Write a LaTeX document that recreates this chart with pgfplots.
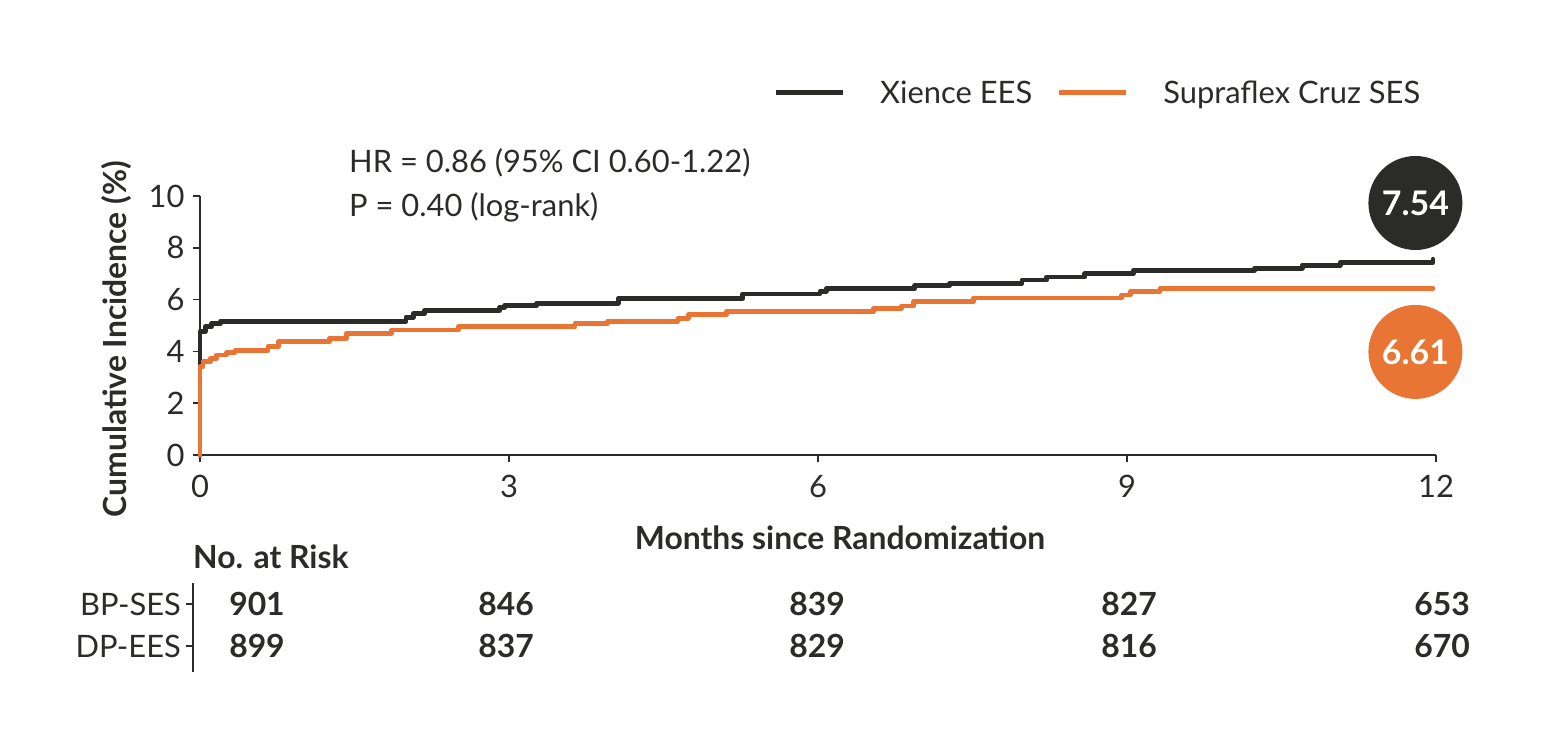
\documentclass[border=0pt]{standalone}
\usepackage{fontspec}
\setmainfont{Lato}
\usepackage{pgfplots}
\pgfplotsset{compat=1.18}

\definecolor{dark}{RGB}{43,43,41}
\definecolor{orng}{RGB}{233,117,53}

\newcommand{\fs}{\fontsize{31}{36}\selectfont}
\newcommand{\fb}{\fontsize{32}{38}\selectfont\bfseries}

\begin{document}
\begin{tikzpicture}
\path[use as bounding box] (0,0) rectangle (1543bp,-752bp);

\begin{axis}[
    at={(200bp,-455bp)}, anchor=south west,
    scale only axis, width=1236bp, height=259bp,
    xmin=0, xmax=12, ymin=0, ymax=10,
    axis x line*=bottom, axis y line*=left,
    axis line style={-, line width=1.5bp, color=dark},
    xtick={0,3,6,9,12}, ytick={0,2,4,6,8,10},
    tick align=outside, major tick length=7bp,
    tick style={line width=1.5bp, color=dark},
    /pgf/number format/assume math mode=true,
    ticklabel style={font=\fs, text=dark},
    xticklabel shift=10bp, yticklabel shift=5bp,
    clip=false,
    legend columns=2,
    legend style={at={(0.4636,1.3977)}, anchor=west, draw=none, fill=none,
        inner sep=0pt, font=\fs, text=dark,
        /tikz/every odd column/.append style={column sep=33bp},
        /tikz/every even column/.append style={column sep=22bp}},
    legend cell align=left,
    legend image code/.code={\draw[#1, line width=5bp, line cap=butt] (0bp,0bp) -- (67bp,0bp);},
]
\addplot[const plot, color=dark, line width=4.8bp, line cap=round, line join=round]
coordinates {
(0,0) (0,4.76) (0.05,4.95) (0.115,5.08) (0.2,5.17) (2.0,5.32) (2.07,5.45)
(2.18,5.58) (2.91,5.71) (2.96,5.77) (3.27,5.86) (4.06,6.05) (5.27,6.22)
(6.02,6.32) (6.08,6.42) (6.94,6.54) (7.28,6.63) (7.98,6.76) (8.22,6.87)
(8.59,7.00) (9.06,7.12) (10.24,7.21) (10.70,7.33) (11.07,7.44) (11.97,7.56)
};
\addlegendentry{Xience EES}
\addplot[const plot, color=orng, line width=4.8bp, line cap=round, line join=round]
coordinates {
(0,0) (0,3.41) (0.03,3.60) (0.10,3.73) (0.16,3.86) (0.26,3.95) (0.34,4.05)
(0.66,4.18) (0.76,4.37) (1.26,4.51) (1.42,4.70) (1.86,4.83) (2.51,4.95)
(3.64,5.08) (3.96,5.17) (4.64,5.28) (4.74,5.41) (5.11,5.53) (6.54,5.66)
(6.81,5.75) (6.93,5.92) (7.51,6.06) (8.95,6.18) (9.03,6.31) (9.32,6.44)
(11.97,6.44)
};
\addlegendentry{Supraflex Cruz SES}

\node[circle, fill=dark, inner sep=0pt, minimum size=94bp, text=white,
      font=\fontsize{34}{38}\selectfont\bfseries] at (axis cs:11.80,9.73) {7.54};
\node[circle, fill=orng, inner sep=0pt, minimum size=94bp, text=white,
      font=\fontsize{34}{38}\selectfont\bfseries] at (axis cs:11.80,3.98) {6.61};
\end{axis}

% annotations
\node[anchor=west, font=\fs, text=dark, inner sep=0pt] at (349bp,-163bp) {HR = 0.86 (95\% CI 0.60-1.22)};
\node[anchor=west, font=\fs, text=dark, inner sep=0pt] at (349bp,-207bp) {P = 0.40 (log-rank)};
\node[rotate=90, font=\fb, text=dark, inner sep=0pt] at (117bp,-339bp) {Cumulative Incidence (\%)};
\node[font=\fb, text=dark, inner sep=0pt] at (840bp,-538bp) {Months since Randomization};

% number at risk
\node[anchor=west, font=\fb, text=dark, inner sep=0pt] at (193bp,-557bp) {No. at Risk};
\node[anchor=east, font=\fs, text=dark, inner sep=0pt] at (181bp,-604bp) {BP-SES};
\node[anchor=east, font=\fs, text=dark, inner sep=0pt] at (181bp,-646bp) {DP-EES};
\draw[dark, line width=1.5bp] (193bp,-583bp) -- (193bp,-672bp);
\draw[dark, line width=1.5bp] (186bp,-604bp) -- (193bp,-604bp);
\draw[dark, line width=1.5bp] (186bp,-646bp) -- (193bp,-646bp);
\foreach \x/\a/\b in {257/901/899, 506/846/837, 817/839/829, 1129/827/816, 1442/653/670} {
  \node[font=\fb, text=dark, inner sep=0pt] at (\x bp,-604bp) {\a};
  \node[font=\fb, text=dark, inner sep=0pt] at (\x bp,-646bp) {\b};
}
\end{tikzpicture}
\end{document}
